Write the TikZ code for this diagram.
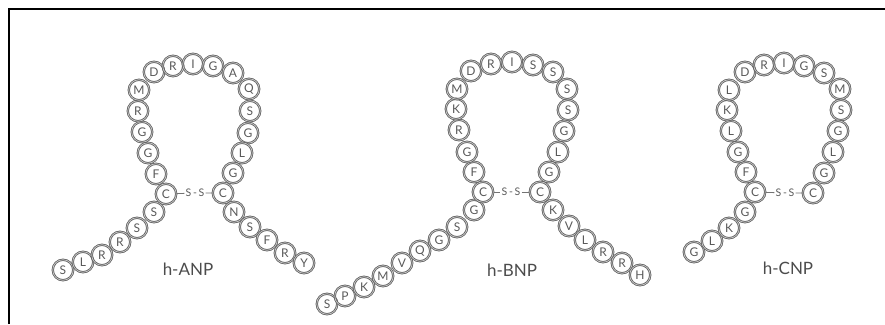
\documentclass[tikz,border=0pt]{standalone}
\usepackage{fontspec}
\setmainfont{Lato}
\begin{document}
\begin{tikzpicture}[x=1pt,y=-1pt,
  aa/.style={circle,draw=black!62,double=black!22,double distance=0.7pt,line width=0.8pt,
    minimum size=20.5pt,inner sep=0pt,
    text=black!65,font=\fontsize{12}{12}\selectfont},
  ssbond/.style={inner sep=1pt,text=black!65,font=\fontsize{10.5}{10.5}\selectfont},
  bond/.style={draw=black!55,line width=0.8pt},
  pname/.style={text=black!70,font=\fontsize{17}{17}\selectfont},
  frame/.style={line width=2pt,black}]
\useasboundingbox (0,0) rectangle (885,324);
\coordinate (f1) at (9,324);
\coordinate (f2) at (9,9);
\coordinate (f3) at (885,9);
\draw[frame] (f1) -- (f2) -- (f3);
% h-ANP
\foreach \l/\x/\y [count=\i] in {S/63/270,L/83/262,R/102/255,R/120/242,S/137/228,S/154/212,
  C/166/194,F/156/174,G/148/153,G/142/132,R/138/111,M/139/90,D/154/72,R/173/66,I/193/64,
  G/213/66,A/233/73,Q/249/89,S/250/111,G/248/133,L/242/153,G/233/173,C/223/193,
  N/234/212,S/250/227,F/267/240,R/285/253,Y/304/263}
  \node[aa] (anp\i) at (\x,\y) {\l};
\node[ssbond] (anpss) at (195,193) {S\,-\,S};
\draw[bond] (anp7) -- (anpss) -- (anp23);
\node[pname] (anpname) at (188,269) {h-ANP};
% h-BNP
\foreach \l/\x/\y [count=\i] in {S/327/304,P/345/296,K/364/287,M/383/276,V/402/263,Q/420/251,
  G/439/240,S/457/227,G/474/210,C/483/192,F/474/172,G/467/152,R/459/130,K/456/109,M/457/89,
  D/471/71,R/491/64,I/512/62,S/533/65,S/553/72,S/567/89,S/568/110,G/564/131,L/558/152,
  G/549/172,C/540/192,K/553/210,V/569/226,L/585/240,R/603/252,R/622/263,H/640/275}
  \node[aa] (bnp\i) at (\x,\y) {\l};
\node[ssbond] (bnpss) at (511,192) {S\,-\,S};
\draw[bond] (bnp10) -- (bnpss) -- (bnp26);
\node[pname] (bnpname) at (512,270) {h-BNP};
% h-CNP
\foreach \l/\x/\y [count=\i] in {G/694/252,L/712/241,K/729/228,G/745/212,C/755/192,F/746/172,
  G/738/152,L/731/131,K/727/110,L/729/90,D/745/72,R/764/65,I/784/63,G/804/66,S/824/73,
  M/840/89,S/841/110,G/838/131,L/833/152,G/824/173,C/813/193}
  \node[aa] (cnp\i) at (\x,\y) {\l};
\node[ssbond] (cnpss) at (785,193) {S\,-\,S};
\draw[bond] (cnp5) -- (cnpss) -- (cnp21);
\node[pname] (cnpname) at (788,268) {h-CNP};
\end{tikzpicture}
\end{document}
